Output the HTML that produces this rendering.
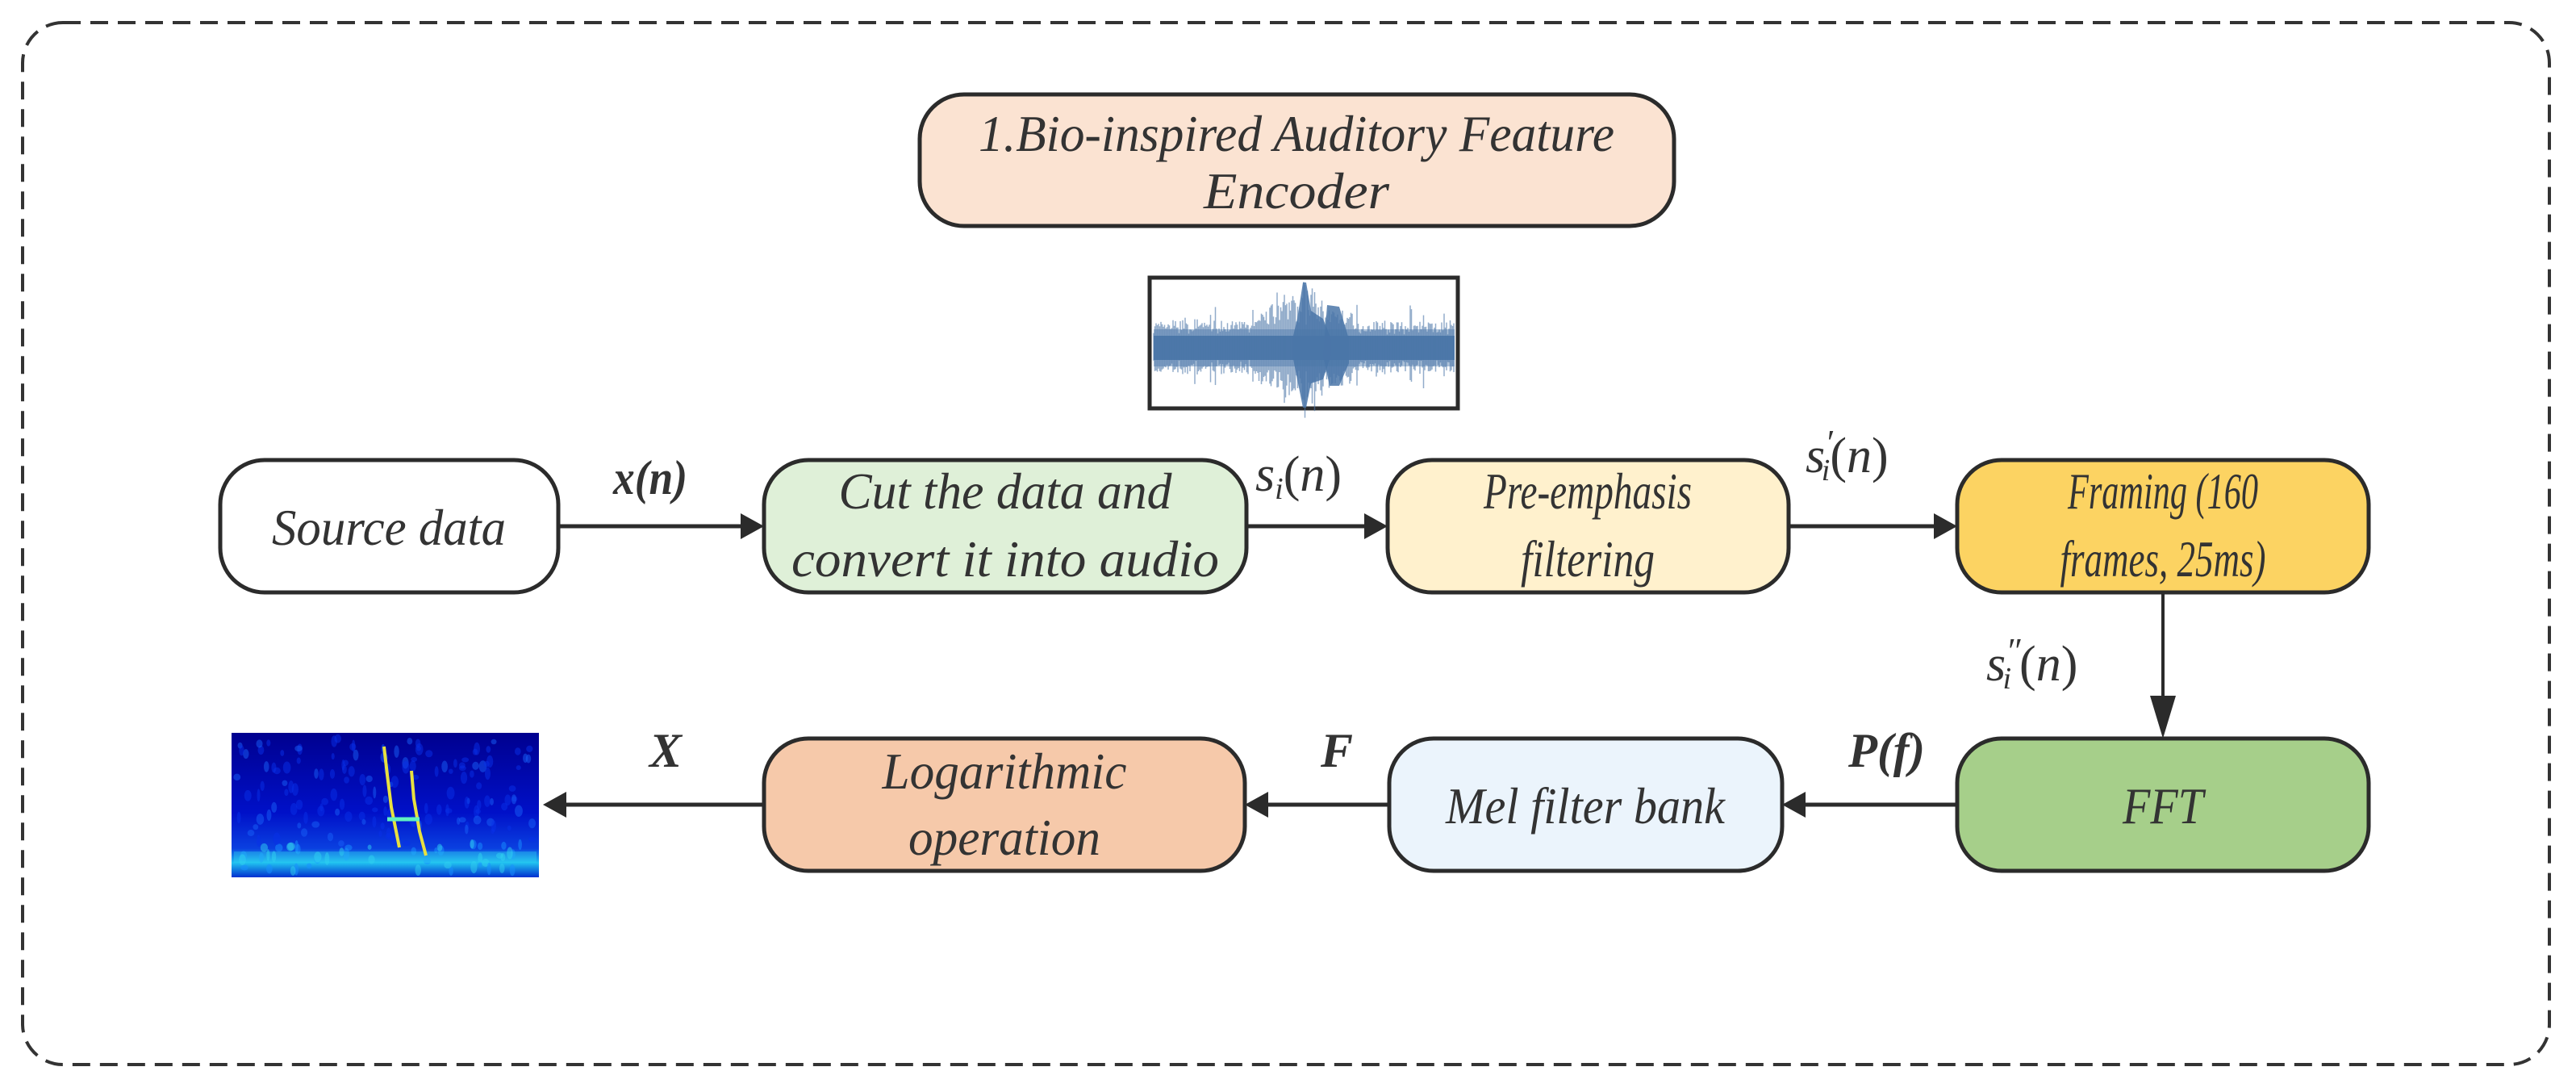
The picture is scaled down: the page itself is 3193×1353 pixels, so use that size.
<!DOCTYPE html>
<html><head><meta charset="utf-8"><style>
html,body{margin:0;padding:0;background:#fff;}
svg{display:block;}
text{font-family:"Liberation Serif","Times New Roman",serif;font-style:italic;fill:#333;}
</style></head><body>
<svg width="3193" height="1353" viewBox="0 0 3193 1353" xmlns="http://www.w3.org/2000/svg">
<defs>
<linearGradient id="bg" x1="0" y1="0" x2="0" y2="1">
<stop offset="0" stop-color="#00008f"/><stop offset="0.55" stop-color="#0010c8"/><stop offset="0.8" stop-color="#0a40e0"/><stop offset="0.9" stop-color="#20c0f0"/><stop offset="1" stop-color="#0030d0"/>
</linearGradient>
</defs>
<rect x="28" y="28" width="3132" height="1291" rx="50" fill="none" stroke="#333" stroke-width="4" stroke-dasharray="22 12"/>

<g stroke="#2b2b2b" stroke-width="5">
<rect x="1140" y="117" width="935" height="163" rx="55" fill="#fbe3d2"/>
<rect x="273" y="570" width="419" height="164" rx="55" fill="#fff"/>
<rect x="947" y="570" width="598" height="164" rx="55" fill="#dff0d8"/>
<rect x="1720" y="570" width="497" height="164" rx="55" fill="#fff1cd"/>
<rect x="2426" y="570" width="510" height="164" rx="55" fill="#fcd362"/>
<rect x="2426" y="915" width="510" height="164" rx="55" fill="#a6cf8a"/>
<rect x="1722" y="915" width="487" height="164" rx="55" fill="#ebf4fc"/>
<rect x="947" y="915" width="596" height="164" rx="55" fill="#f6c9aa"/>
</g>

<!-- waveform -->
<rect x="1425" y="344" width="382" height="162" fill="#fff" stroke="#2b2b2b" stroke-width="5"/>
<g id="wave" fill="#4a76a8">
<rect x="1430" y="416" width="373" height="30" opacity="0.95"/>
<rect x="1430" y="408" width="373" height="46" opacity="0.45"/>
<polygon points="1615,350 1619,350 1625,385 1640,395 1650,420 1650,440 1640,470 1625,475 1619,505 1615,505 1608,470 1602,440 1602,420 1608,395" opacity="0.85"/>
<polygon points="1645,378 1660,380 1672,420 1672,450 1660,478 1648,478 1640,440" opacity="0.85"/>
</g>

<!-- spectrogram -->
<rect x="287" y="908" width="381" height="179" fill="url(#bg)"/>
<g id="spec"></g>
<rect x="290" y="1055" width="375" height="14" fill="#30d8f0" opacity="0.35"/>
<polyline points="476,925 480,960 485,1000 495,1050" fill="none" stroke="#e8e040" stroke-width="4"/>
<polyline points="510,955 513,990 520,1030 528,1060" fill="none" stroke="#e8e040" stroke-width="4"/>
<polyline points="480,1015 520,1015" fill="none" stroke="#60f0c0" stroke-width="5"/>

<!-- connectors -->
<g stroke="#2b2b2b" stroke-width="5" fill="#2b2b2b">
<line x1="692" y1="652" x2="925" y2="652"/><polygon points="947,652 918,636 918,668" stroke="none"/>
<line x1="1545" y1="652" x2="1698" y2="652"/><polygon points="1720,652 1691,636 1691,668" stroke="none"/>
<line x1="2217" y1="652" x2="2404" y2="652"/><polygon points="2426,652 2397,636 2397,668" stroke="none"/>
<line x1="2681" y1="734" x2="2681" y2="893" stroke-width="4"/><polygon points="2681,915 2665,862 2697,862" stroke="none"/>
<line x1="2426" y1="997" x2="2231" y2="997"/><polygon points="2209,997 2238,981 2238,1013" stroke="none"/>
<line x1="1722" y1="997" x2="1565" y2="997"/><polygon points="1543,997 1572,981 1572,1013" stroke="none"/>
<line x1="947" y1="997" x2="695" y2="997"/><polygon points="673,997 702,981 702,1013" stroke="none"/>
</g>

<g font-size="64" text-anchor="middle">
<text x="1607" y="187" textLength="788" lengthAdjust="spacingAndGlyphs">1.Bio-inspired Auditory Feature</text>
<text x="1607" y="258" textLength="230" lengthAdjust="spacingAndGlyphs">Encoder</text>
<text x="482" y="675" textLength="290" lengthAdjust="spacingAndGlyphs">Source data</text>
<text x="1246" y="630" textLength="413" lengthAdjust="spacingAndGlyphs">Cut the data and</text>
<text x="1246" y="714" textLength="530" lengthAdjust="spacingAndGlyphs">convert it into audio</text>
<text x="1968" y="630" textLength="258" lengthAdjust="spacingAndGlyphs">Pre-emphasis</text>
<text x="1968" y="714" textLength="166" lengthAdjust="spacingAndGlyphs">filtering</text>
<text x="2681" y="630" textLength="236" lengthAdjust="spacingAndGlyphs">Framing (160</text>
<text x="2681" y="714" textLength="255" lengthAdjust="spacingAndGlyphs">frames, 25ms)</text>
<text x="2681" y="1020" textLength="100" lengthAdjust="spacingAndGlyphs">FFT</text>
<text x="1965" y="1020" textLength="346" lengthAdjust="spacingAndGlyphs">Mel filter bank</text>
<text x="1245" y="977" textLength="303" lengthAdjust="spacingAndGlyphs">Logarithmic</text>
<text x="1245" y="1059" textLength="238" lengthAdjust="spacingAndGlyphs">operation</text>
</g>

<g font-size="60" font-weight="bold">
<text x="760" y="612" textLength="92" lengthAdjust="spacingAndGlyphs">x(n)</text>
<text x="2291" y="950" textLength="95" lengthAdjust="spacingAndGlyphs">P(f)</text>
<text x="1637" y="950">F</text>
<text x="805" y="950">X</text>
</g>
<g font-size="62">
<text x="1556" y="608">s<tspan font-size="38" dy="10">i</tspan><tspan font-style="normal" dy="-10">(</tspan>n<tspan font-style="normal">)</tspan></text>
<text x="2238" y="585">s<tspan font-size="44" dy="-22">′</tspan><tspan font-size="38" dx="-14" dy="32">i</tspan><tspan font-style="normal" dy="-10">(</tspan>n<tspan font-style="normal">)</tspan></text>
<text x="2462" y="843">s<tspan font-size="44" dy="-22">″</tspan><tspan font-size="38" dx="-22" dy="32">i</tspan><tspan font-style="normal" dx="10" dy="-10">(</tspan>n<tspan font-style="normal">)</tspan></text>
</g>
</svg>
<script>
(function(){
var ns="http://www.w3.org/2000/svg";
var seed=7;function r(){seed=(seed*16807)%2147483647;return seed/2147483647;}
var w=document.getElementById("wave");
for(var x=1430;x<1803;x+=1.5){
 var a=22+r()*14; if(r()<0.05)a+=18;
 var d=Math.abs(x-1617); if(d<60)a+=(60-d)*0.9*r()+10;
 var l=document.createElementNS(ns,"line");
 l.setAttribute("x1",x);l.setAttribute("x2",x);
 l.setAttribute("y1",430-a*(0.7+0.3*r()));l.setAttribute("y2",430+a*(0.7+0.3*r()));
 l.setAttribute("stroke","#4a76a8");l.setAttribute("stroke-width","1.5");l.setAttribute("opacity","0.6");
 w.appendChild(l);
}
var s=document.getElementById("spec");
for(var i=0;i<200;i++){
 var c=document.createElementNS(ns,"ellipse");
 var y=915+r()*165; var x2=292+r()*372;
 c.setAttribute("cx",x2);c.setAttribute("cy",y);c.setAttribute("rx",2+r()*3);c.setAttribute("ry",3+r()*5);
 var col=y>1045?(r()<0.5?"#30d0f0":"#1890ff"):(r()<0.3?"#1860f8":"#0830e8");
 c.setAttribute("fill",col);c.setAttribute("opacity","0.5");
 s.appendChild(c);
}
})();
</script>
</body></html>
